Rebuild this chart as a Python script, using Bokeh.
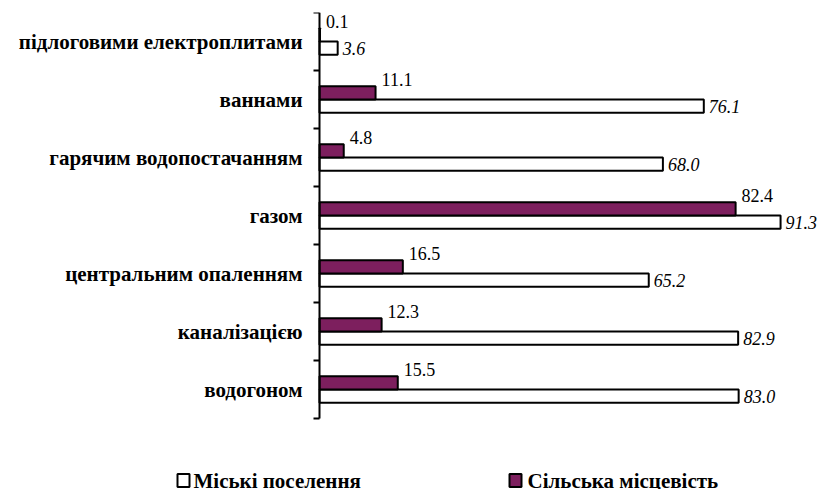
from bokeh.plotting import figure
from bokeh.models import Range1d, FixedTicker, ColumnDataSource, LinearAxis
from bokeh.embed import file_html
from bokeh.resources import INLINE
from bokeh.core.properties import value

categories = ["водогоном", "каналізацією", "центральним опаленням", "газом",
              "гарячим водопостачанням", "ваннами", "підлоговими електроплитами"]
urban = [83.0, 82.9, 65.2, 91.3, 68.0, 76.1, 3.6]
rural = [15.5, 12.3, 16.5, 82.4, 4.8, 11.1, 0.1]
series_names = ["Міські поселення", "Сільська місцевість"]

n = len(categories)
pos = list(range(n))
bar_h = 0.23
lbl_gap = 0.12
purple = "#7D1F5E"
FONT = "Liberation Serif"

# layout constants (page pixels)
AXIS_PX = 319
TOP_PX = 12
W, H = 817, 489
px_per_unit = 5.05
row_px = 58.0

def to_x(px):
    return (px - AXIS_PX) / px_per_unit

def to_y(py):
    return (n - 0.5) - (py - TOP_PX) / row_px

src = ColumnDataSource(dict(
    pos=pos,
    cat=categories,
    zero=[0] * n,
    urban=urban,
    rural=rural,
    y_rural=[p + bar_h / 2 for p in pos],
    y_urban=[p - bar_h / 2 for p in pos],
    y_rural_lbl=[p + bar_h + lbl_gap for p in pos],
    urban_txt=[f"{v:.1f}" for v in urban],
    rural_txt=[f"{v:.1f}" for v in rural],
))

p = figure(width=W, height=H, output_backend="svg", toolbar_location=None,
           x_range=Range1d(to_x(0), to_x(W)), y_range=Range1d(to_y(H), n - 0.5),
           x_axis_location=None, y_axis_location=None,
           min_border_left=0, min_border_right=0, min_border_top=TOP_PX, min_border_bottom=0)
p.outline_line_color = None
p.grid.visible = False
p.background_fill_color = "white"
p.border_fill_color = "white"

bar_urban = dict(fill_color="white", line_color="black", line_width=2)
bar_rural = dict(fill_color=purple, line_color="black", line_width=2)

p.hbar(y="y_urban", left=0, right="urban", height=bar_h, source=src, **bar_urban)
p.hbar(y="y_rural", left=0, right="rural", height=bar_h, source=src, **bar_rural)

p.text(x="rural", y="y_rural_lbl", text="rural_txt", source=src, x_offset=6,
       text_font=value(FONT), text_font_size="18px", text_color="black",
       text_baseline="middle", text_align="left")
p.text(x="urban", y="y_urban", text="urban_txt", source=src, x_offset=5,
       text_font=value(FONT), text_font_size="18px", text_font_style="italic",
       text_color="black", text_baseline="middle", text_align="left")

# category axis: line + boundary ticks; category names drawn beside it
ax = LinearAxis(fixed_location=0, bounds=(-0.5, n - 0.5))
ax.ticker = FixedTicker(ticks=[], minor_ticks=[k - 0.5 for k in range(n + 1)])
ax.axis_line_width = 2
ax.axis_line_color = "black"
ax.major_tick_line_color = None
ax.minor_tick_line_color = "black"
ax.minor_tick_line_width = 2
ax.minor_tick_out = 6
ax.minor_tick_in = 0
p.add_layout(ax, "left")

p.text(x="zero", y="pos", text="cat", source=src, x_offset=-17,
       text_font=value(FONT), text_font_size="21px", text_font_style="bold",
       text_color="black", text_baseline="middle", text_align="right")

# legend row
leg = ColumnDataSource(dict(
    sx=[to_x(183), to_x(515)],
    tx=[to_x(193), to_x(527)],
    sy=[to_y(480), to_y(480)],
    fill=["white", purple],
    label=series_names,
))
p.rect(x="sx", y="sy", width=12, height=13, width_units="screen", height_units="screen",
       source=leg, fill_color="fill", line_color="black", line_width=2)
p.text(x="tx", y="sy", text="label", source=leg,
       text_font=value(FONT), text_font_size="21px", text_font_style="bold",
       text_color="black", text_baseline="middle", text_align="left")

open("out.html", "w").write(file_html(p, INLINE))
